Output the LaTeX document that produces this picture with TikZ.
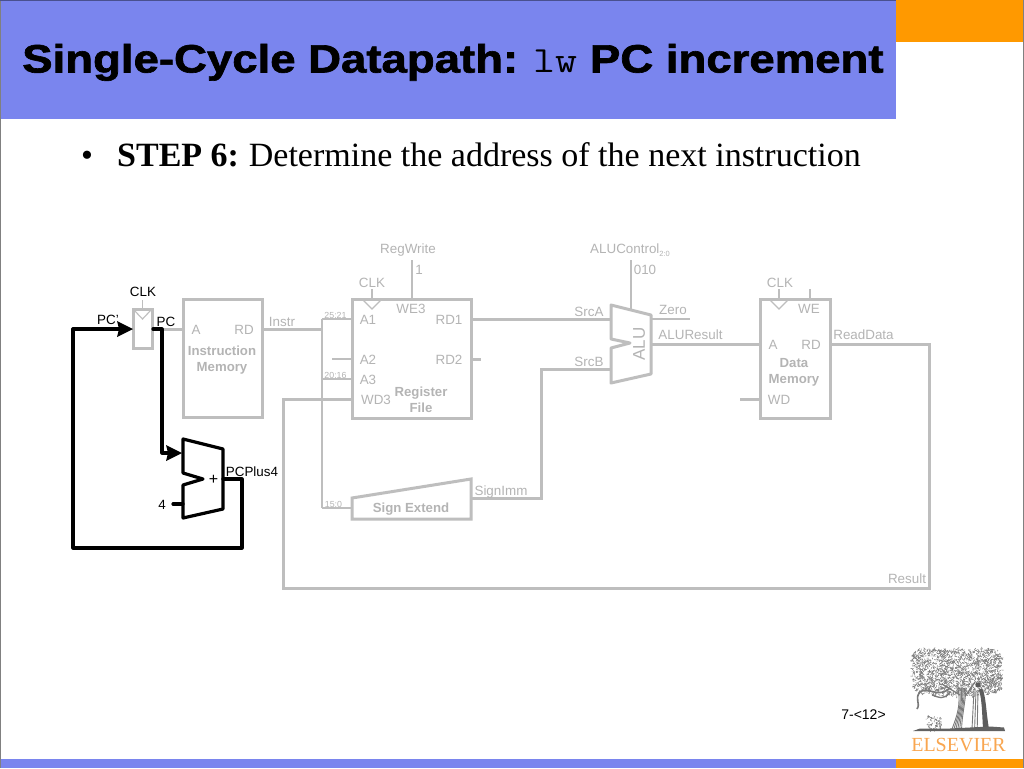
\documentclass[tikz,border=0pt]{standalone}
\usepackage{fontspec}
\setmainfont{Liberation Sans}
\newfontfamily\serifbody{Liberation Serif}
\newfontfamily\titlefont{Liberation Sans}[BoldFeatures={FakeBold=1.6}]
\definecolor{hdrblue}{HTML}{7A85EE}
\definecolor{hdrorange}{HTML}{FF9900}
\definecolor{wiregray}{HTML}{BEBEBE}
\definecolor{labelgray}{HTML}{B4B4B4}
\definecolor{treegray}{HTML}{7A7A7A}
\definecolor{elsorange}{HTML}{F9A650}
\tikzset{
  x=1pt,y=-1pt,
  blockbox/.style={draw=wiregray,line width=3pt,rectangle,inner sep=0pt,line join=miter},
  wire/.style={draw=wiregray,line width=3pt,line join=miter},
  busw/.style={draw=wiregray,line width=2.2pt,line join=miter},
  thinwire/.style={draw=wiregray,line width=1.1pt},
  hotwire/.style={draw=black,line width=3.2pt,line join=round,line cap=round},
  hotshape/.style={draw=black,line width=3.2pt,line join=round},
  lab/.style={text=labelgray,font=\fontsize{13.4}{15}\selectfont,inner sep=0pt,yshift=-0.8pt},
  blab/.style={text=black,font=\fontsize{13.4}{15}\selectfont,inner sep=0pt,yshift=-0.8pt},
  boldlab/.style={text=labelgray,font=\fontsize{13.2}{16}\selectfont\bfseries,inner sep=0pt,align=center,yshift=-0.8pt},
  tiny/.style={text=labelgray,font=\fontsize{8.8}{10}\selectfont,inner sep=0pt},
  bighead/.style={fill=black,draw=none},
}
\begin{document}
\begin{tikzpicture}
\useasboundingbox (0,0) rectangle (1024,768);
% frame and header
\fill[white] (0,0) rectangle (1024,768);
\fill[hdrblue] (0,0) rectangle (896,119);
\fill[hdrorange] (896,0) rectangle (1024,42);
\fill[hdrblue] (0,759) rectangle (896,768);
\fill[hdrorange] (896,759) rectangle (1024,768);
\draw[gray,line width=1pt] (0.5,0) -- (0.5,768);
\draw[gray,line width=1pt] (1023,0) -- (1023,768);
\draw[hdrblue!60!black,line width=1pt] (0,0.5) -- (896,0.5);
\node[anchor=base west,inner sep=0pt,xscale=1.153,font=\titlefont\fontsize{39.5}{42}\selectfont] (title) at (22,72.5) {\textbf{Single-Cycle Datapath:}\hspace{-1.5pt} {\ttfamily\fontsize{37}{40}\selectfont lw} \textbf{PC increment}};
\node[anchor=base,inner sep=0pt,font=\serifbody\fontsize{34}{36}\selectfont] (bullet) at (87,166) {•};
\node[anchor=base west,inner sep=0pt,font=\serifbody\fontsize{34}{36}\selectfont] (step) at (117,166) {\textbf{STEP 6:}\hspace{-1.5pt} Determine the address of the next instruction};

% gray blocks
\node[blockbox,minimum width=79pt,minimum height=118pt] (imem) at (222.5,358.5) {};
\node[blockbox,minimum width=119pt,minimum height=119pt] (rf) at (411.5,359) {};
\node[blockbox,minimum width=70pt,minimum height=119pt] (dmem) at (795,359) {};
\draw[blockbox] (352,498) -- (471,479) -- (471,519) -- (352,519) -- cycle;
\coordinate (seIn) at (352,508);
\coordinate (seOut) at (471,498);
% ALU
\draw[blockbox,line join=round] (611,305) -- (651,315) -- (651,374) -- (611,383) -- (611,348) -- (630,343) -- (611,339) -- cycle;
\coordinate (aluA) at (611,319);
\coordinate (aluB) at (611,369);
\coordinate (aluOut) at (651,344);
\coordinate (aluZero) at (651,319);
\coordinate (aluCtl) at (631,310);
\node[lab,font=\fontsize{17}{18}\selectfont,rotate=90,yshift=0.8pt] (alulab) at (640,343) {ALU};

% gray wires
\coordinate (pcJ) at (162,329);
\coordinate (imA) at (183,329);
\coordinate (imRD) at (263,329);
\coordinate (busT) at (322,319);
\coordinate (busM) at (322,329);
\coordinate (busA3) at (322,379);
\coordinate (busB) at (322,508);
\coordinate (rfA1) at (351,319);
\coordinate (rfA3) at (351,379);
\coordinate (rfWD) at (351,399);
\coordinate (a2free) at (332,359);
\coordinate (rfA2) at (351,359);
\coordinate (rfRD1) at (471,319);
\coordinate (rfRD2) at (471,359);
\coordinate (rd2free) at (481,359);
\coordinate (dmA) at (760,344);
\coordinate (dmRD) at (830,344);
\coordinate (dmWD) at (760,399);
\coordinate (wdfree) at (740,399);
\coordinate (resR) at (929,344);
\coordinate (resRB) at (929,588);
\coordinate (resLB) at (283,588);
\coordinate (resLT) at (283,399);
\draw[wire] (pcJ) -- (imA);
\draw[wire] (imRD) -- (busM);
\draw[busw] (busT) -- (busB);
\draw[busw] (busT) -- (rfA1);
\draw[busw] (busA3) -- (rfA3);
\draw[busw] (busB) -- (seIn);
\draw[busw,line width=1.5pt] (a2free) -- (rfA2);
\draw[wire] (rfRD1) -- (aluA);
\draw[wire] (rfRD2) -- (rd2free);
\draw[wire] (seOut) -- (541,498) -- (541,369) -- (aluB);
\draw[wire] (aluOut) -- (dmA);
\draw[wire] (wdfree) -- (dmWD);
\draw[wire] (dmRD) -- (resR) -- (resRB) -- (resLB) -- (resLT) -- (rfWD);
% control wires
\coordinate (rwTop) at (412,260);
\coordinate (rwBot) at (412,299);
\coordinate (acTop) at (631,260);
\coordinate (zeroEnd) at (690,319);
\draw[thinwire] (rwTop) -- (rwBot);
\draw[thinwire,line width=1.6pt] (acTop) -- (aluCtl);
\draw[thinwire] (aluZero) -- (zeroEnd);
\draw[thinwire] (372,289) -- (372,299);
\draw[thinwire] (362,299) -- (372,309) -- (382,299);
\draw[thinwire] (779,289) -- (779,299);
\draw[thinwire] (769,299) -- (779,309) -- (789,299);
\draw[thinwire] (810,289) -- (810,299);

% gray labels
\node[lab] (t1) at (196,329) {A};
\node[lab] (t2) at (244,329) {RD};
\node[boldlab] (t3) at (222,359) {Instruction\\Memory};
\node[lab] (t4) at (282,321) {Instr};
\node[tiny] (t5) at (335.5,315) {25:21};
\node[tiny] (t6) at (335.5,375) {20:16};
\node[tiny] (t7) at (333.5,504) {15:0};
\node[lab] (t8) at (408,249) {RegWrite};
\node[lab] (t9) at (419,269) {1};
\node[lab] (t10) at (372,282) {CLK};
\node[lab] (t11) at (411,308.5) {WE3};
\node[lab] (t12) at (368,319) {A1};
\node[lab] (t13) at (368,359) {A2};
\node[lab] (t14) at (368,379) {A3};
\node[lab] (t15) at (376,399) {WD3};
\node[lab] (t16) at (449,319) {RD1};
\node[lab] (t17) at (449,359) {RD2};
\node[boldlab] (t18) at (421,399) {Register\\File};
\node[boldlab] (t19) at (411,508) {Sign Extend};
\node[lab] (t20) at (501,491) {SignImm};
\node[lab] (t21) at (589,311) {SrcA};
\node[lab] (t22) at (589,361) {SrcB};
\node[lab,anchor=west] (t23) at (590,249) {ALUControl\raisebox{-3pt}{\fontsize{7.5}{8}\selectfont 2:0}};
\node[lab] (t24) at (645,269) {010};
\node[lab] (t25) at (673,309) {Zero};
\node[lab] (t26) at (690.5,334) {ALUResult};
\node[lab] (t27) at (780,282) {CLK};
\node[lab] (t28) at (809,308.5) {WE};
\node[lab] (t29) at (773,344) {A};
\node[lab] (t30) at (811,344) {RD};
\node[boldlab] (t31) at (794,372) {Data\\Memory};
\node[lab] (t32) at (779,399) {WD};
\node[lab] (t33) at (863.5,334) {ReadData};
\node[lab] (t34) at (907,578) {Result};

% PC register (gray) and highlighted path
\node[blockbox,minimum width=19pt,minimum height=39pt] (pcreg) at (143,329) {};
\draw[thinwire] (133,309) -- (142.5,319) -- (152,309);
\draw[thinwire] (142.5,300) -- (142.5,309);
\coordinate (pcIn) at (133,329);
\coordinate (pcOut) at (153,329);
\coordinate (addA) at (182,453);
\coordinate (addB) at (183,504);
\coordinate (addOut) at (223,479);
\coordinate (fourEnd) at (173,504);
\coordinate (fbR) at (242,479);
\coordinate (fbRB) at (242,548);
\coordinate (fbLB) at (73,548);
\coordinate (fbLT) at (73,329);
\draw[hotshape] (183,439) -- (223,449) -- (223,509) -- (183,518) -- (183,485) -- (203,479) -- (183,473) -- cycle;
\draw[hotwire] (addOut) -- (fbR) -- (fbRB) -- (fbLB) -- (fbLT) -- (125,329);
\draw[hotwire] (pcOut) -- (pcJ) -- (162,453) -- (175,453);
\draw[hotwire] (fourEnd) -- (addB);
\fill[bighead] (pcIn) -- (117,321) -- (119,329) -- (117,337) -- cycle;
\fill[bighead] (addA) -- (166,445) -- (168,453) -- (166,461) -- cycle;
\node[blab] (b1) at (143,291) {CLK};
\node[blab] (b2) at (108,319) {PC'};
\node[blab] (b3) at (166,321) {PC};
\node[blab,font=\fontsize{16}{18}\selectfont] (b4) at (213.5,479) {+};
\node[blab] (b5) at (162,504) {4};
\node[blab] (b6) at (252,471) {PCPlus4};
\node[blab,font=\fontsize{14}{16}\selectfont] (pageno) at (863.5,714) {7-<12>};

% Elsevier tree logo
\pgfmathsetseed{4711}
\foreach \i in {1,...,1700}{
  \pgfmathsetmacro{\tx}{912+90*rnd}
  \pgfmathsetmacro{\ty}{649+47*rnd}
  \pgfmathsetmacro{\dx}{5*rnd-2.5}
  \pgfmathsetmacro{\dy}{5*rnd-2.5}
  \pgfmathsetmacro{\inside}{(abs(\tx-957)/47)^4+(abs(\ty-671)/25)^4<1 ? 1 : 0}
  \ifdim\inside pt>0pt
    \draw[treegray,line width=0.55pt] (\tx,\ty) -- ++(\dx,\dy);
  \fi
}
% trunk as strokes
\foreach \k in {0,1.6,3.2,4.8,6.4,8}{
  \draw[treegray,line width=0.9pt] (958+\k,688) .. controls (961+0.5*\k,705) and (957+0.6*\k,716) .. (952+\k*1.2,729);
}
\draw[treegray,line width=1.3pt] (960,695) -- (942,684);
\draw[treegray,line width=1.3pt] (966,695) -- (975,682);
% vine
\draw[treegray,line width=1.6pt] (950,688) .. controls (938,699) and (928,686) .. (920,692) .. controls (914,699) and (921,703) .. (917,709);
\draw[treegray,line width=1.3pt] (950,692) .. controls (944,701) and (938,697) .. (932,695);
% figure
\fill[treegray!75!black] (978,685) circle (2.6pt);
\fill[treegray!75!black] (982,688) .. controls (986,695) and (986,712) .. (989,729) -- (983,729) .. controls (982,712) and (982,700) .. (979,690) -- cycle;
\foreach \k in {0,2,4}{
  \draw[treegray,line width=0.9pt] (974+\k,690) -- (972+\k*1.3,729);
}
% bush
\pgfmathsetseed{99}
\foreach \i in {1,...,70}{
  \draw[treegray,line width=0.6pt] ({926+15*rnd},{716+14*rnd}) -- ++({4*rnd-2},{4*rnd-2});
}
% ground
\fill[treegray!80!black] (913,731) -- (1005,731) -- (1004,727.5) -- (990,726.5) -- (950,728.5) -- (920,728.5) -- cycle;
\node[inner sep=0pt,text=elsorange,font=\serifbody\fontsize{20}{22}\selectfont] (elsevier) at (958.5,745) {ELSEVIER};
\end{tikzpicture}
\end{document}
